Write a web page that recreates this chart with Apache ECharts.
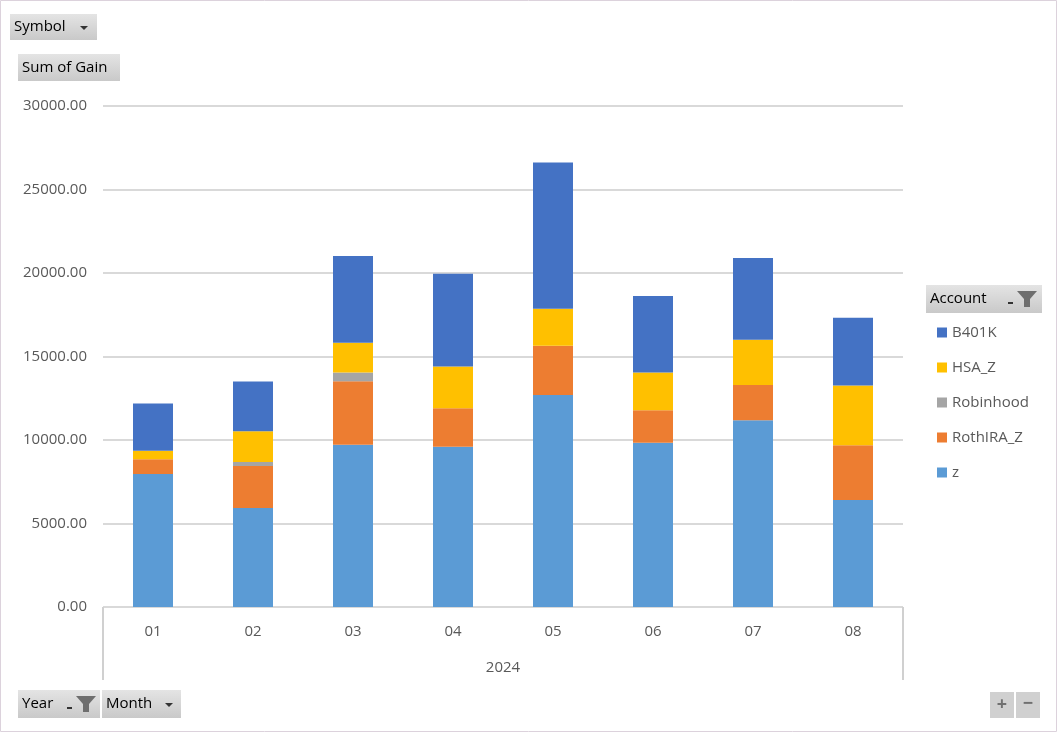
<!DOCTYPE html>
<html>
<head>
<meta charset="UTF-8">
<title>Sum of Gain</title>
<script src="https://cdn.jsdelivr.net/npm/echarts@6/dist/echarts.min.js"></script>
<style>
  html, body { margin: 0; padding: 0; background: #fff; }
  #chart { width: 1058px; height: 733px; }
</style>
</head>
<body>
<div id="chart"></div>
<script>
// months of 2024
const months = ['01', '02', '03', '04', '05', '06', '07', '08'];
const years = ['2024'];

// values, per account
const zVals        = [7960, 5930, 9710, 9590, 12690, 9830, 11180, 6410];
const rothVals     = [890, 2510, 3810, 2310, 2960, 1950, 2120, 3280];
const robinVals    = [0, 250, 520, 0, 0, 0, 0, 0];
const hsaVals      = [500, 1830, 1790, 2500, 2210, 2260, 2700, 3580];
const b401kVals    = [2840, 2980, 5190, 5550, 8760, 4590, 4900, 4050];

const legendOrder = ['B401K', 'HSA_Z', 'Robinhood', 'RothIRA_Z', 'z'];

const chart = echarts.init(document.getElementById('chart'));

function mkSeries(name, data, color) {
    return {
        name: name,
        type: 'bar',
        stack: 'gain',
        data: data,
        barWidth: '40%',
        itemStyle: { color: color },
        emphasis: { disabled: true }
    };
}

// excel-like field buttons
function button(x, y, w, h, label, extra) {
    const items = [{
        type: 'rect',
        shape: { x: x, y: y, width: w, height: h },
        style: {
            fill: new echarts.graphic.LinearGradient(0, 0, 0, 1, [
                { offset: 0, color: '#e4e4e4' },
                { offset: 1, color: '#c9c9c9' }
            ])
        },
        silent: true
    }, {
        type: 'text',
        x: x + 4, y: y + h / 2,
        style: { text: label, fill: '#000', font: '15px "Open Sans", sans-serif', verticalAlign: 'middle' },
        silent: true
    }];
    return items.concat(extra || []);
}

function dropArrow(x, y) {
    return {
        type: 'polygon',
        shape: { points: [[x, y], [x + 8, y], [x + 4, y + 4]] },
        style: { fill: '#333' },
        silent: true
    };
}

function funnel(x, y) {
    return [{
        type: 'polygon',
        shape: { points: [[x, y], [x + 20, y], [x + 13, y + 8], [x + 13, y + 16], [x + 7, y + 16], [x + 7, y + 8]] },
        style: { fill: '#6e6e6e' },
        silent: true
    }, {
        type: 'rect',
        shape: { x: x - 9, y: y + 11, width: 5, height: 2 },
        style: { fill: '#333' },
        silent: true
    }];
}

const graphics = [].concat(
    [{
        type: 'rect',
        shape: { x: 0.5, y: 0.5, width: 1056, height: 731 },
        style: { fill: 'none', stroke: '#dcd2dc', lineWidth: 1 },
        silent: true
    }],
    button(10, 14, 87, 26, 'Symbol', [dropArrow(80, 26)]),
    button(18, 54, 102, 27, 'Sum of Gain'),
    button(18, 690, 82, 28, 'Year', funnel(76, 696)),
    button(102, 690, 79, 28, 'Month', [dropArrow(165, 703)]),
    button(926, 285, 116, 28, 'Account', funnel(1017, 291)),
    [{
        type: 'rect',
        shape: { x: 990, y: 692, width: 24, height: 26 },
        style: { fill: '#d0d0d0' }, silent: true
    }, {
        type: 'rect',
        shape: { x: 1016, y: 692, width: 24, height: 26 },
        style: { fill: '#d0d0d0' }, silent: true
    }, {
        type: 'text', x: 1002, y: 705,
        style: { text: '+', fill: '#707070', font: 'bold 18px "Open Sans", sans-serif', align: 'center', verticalAlign: 'middle' },
        silent: true
    }, {
        type: 'text', x: 1028, y: 704,
        style: { text: '−', fill: '#707070', font: 'bold 18px "Open Sans", sans-serif', align: 'center', verticalAlign: 'middle' },
        silent: true
    }]
);

const option = {
    animation: false,
    backgroundColor: '#fff',
    textStyle: { fontFamily: '"Open Sans", sans-serif' },
    grid: { left: 103, right: 155, top: 106, bottom: 126 },
    legend: {
        orient: 'vertical',
        left: 932,
        top: 320,
        data: legendOrder,
        icon: 'rect',
        itemWidth: 10,
        itemHeight: 10,
        itemGap: 20,
        selectedMode: false,
        textStyle: { color: '#595959', fontSize: 15 }
    },
    xAxis: [{
        type: 'category',
        data: months,
        axisLine: { lineStyle: { color: '#d9d9d9' } },
        axisTick: { show: false },
        axisLabel: { color: '#595959', fontSize: 15, margin: 17 }
    }, {
        type: 'category',
        data: years,
        position: 'bottom',
        axisLine: { show: false },
        axisTick: { show: true, length: 73, lineStyle: { color: '#d0d0d0', width: 2 } },
        axisLabel: { color: '#595959', fontSize: 15, margin: 53 }
    }],
    yAxis: {
        type: 'value',
        min: 0,
        max: 30000,
        interval: 5000,
        axisLine: { show: false },
        axisTick: { show: false },
        splitLine: { lineStyle: { color: '#d9d9d9', width: 2 } },
        axisLabel: {
            color: '#595959',
            fontSize: 15,
            margin: 16,
            formatter: v => v.toFixed(2)
        }
    },
    series: [
        mkSeries('z', zVals, '#5b9bd5'),
        mkSeries('RothIRA_Z', rothVals, '#ed7d31'),
        mkSeries('Robinhood', robinVals, '#a5a5a5'),
        mkSeries('HSA_Z', hsaVals, '#ffc000'),
        mkSeries('B401K', b401kVals, '#4472c4')
    ],
    graphic: graphics
};

chart.setOption(option);
</script>
</body>
</html>
